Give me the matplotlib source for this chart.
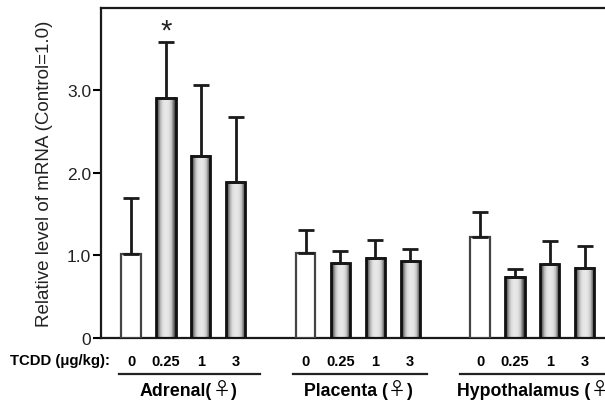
import numpy as np
import matplotlib
matplotlib.use("Agg")
import matplotlib.pyplot as plt

plt.rcParams['font.family'] = ['Liberation Sans', 'DejaVu Sans']

# data
doses = ['0', '0.25', '1', '3']
group_names = ['Adrenal(', 'Placenta (', 'Hypothalamus (']
adrenal_mean = [1.02, 2.91, 2.21, 1.89]
adrenal_err = [0.68, 0.68, 0.86, 0.79]
placenta_mean = [1.03, 0.905, 0.97, 0.93]
placenta_err = [0.28, 0.145, 0.22, 0.15]
hypo_mean = [1.22, 0.74, 0.89, 0.85]
hypo_err = [0.31, 0.10, 0.28, 0.26]

means = [adrenal_mean, placenta_mean, hypo_mean]
errs = [adrenal_err, placenta_err, hypo_err]

fig = plt.figure(figsize=(6.05, 4.02), dpi=100)
ax = fig.add_axes([0.167, 0.157, 0.833, 0.821])

w = 0.55
shade = np.array([0.22, 0.48, 0.72, 0.85, 0.9, 0.91, 0.9, 0.86, 0.76, 0.5, 0.25])

for g in range(3):
    pos = np.arange(4) + 5 * g
    m = np.array(means[g])
    e = np.array(errs[g])
    # control bar (white)
    ax.bar(pos[0], m[0], width=w, color='white', edgecolor='#444444',
           linewidth=1.6, zorder=3)
    # TCDD bars with cylinder-like shading
    for x, h in zip(pos[1:], m[1:]):
        ax.imshow(shade[np.newaxis, :], cmap='gray', vmin=0, vmax=1,
                  extent=(x - w / 2, x + w / 2, 0, h), aspect='auto',
                  interpolation='bilinear', zorder=2)
    ax.bar(pos[1:], m[1:], width=w, color='none', edgecolor='#111111',
           linewidth=2.0, zorder=3)
    ax.errorbar(pos, m, yerr=[np.zeros(4), e], fmt='none', ecolor='#1a1a1a',
                elinewidth=2.0, capsize=5.5, capthick=2.0, zorder=4)
    for x, d in zip(pos, doses):
        ax.text(x, -0.28, d, ha='center', va='center', fontsize=10.5,
                fontweight='bold', clip_on=False)

# significance mark
ax.text(1, 3.72, '*', ha='center', va='center', fontsize=21, color='#222222')

ax.set_xlim(-0.86, 13.58)
ax.set_ylim(0, 4.0)
ax.set_xticks([])
ax.set_yticks([0, 1, 2, 3])
ax.set_yticklabels(['0', '1.0', '2.0', '3.0'], fontsize=12.5, color='#222222')
ax.tick_params(axis='y', direction='out', length=6, width=1.5, pad=1)
ax.set_ylabel('Relative level of mRNA (Control=1.0)', fontsize=13.5,
              color='#222222', labelpad=10)
for s in ['left', 'bottom', 'top']:
    ax.spines[s].set_linewidth(1.6)
    ax.spines[s].set_color('#1a1a1a')
ax.spines['right'].set_visible(False)

# x-axis annotations in figure pixels
def px(x, y):
    return x / 605, 1 - y / 402

fig.text(*px(10, 361), 'TCDD (μg/kg):', ha='left', va='center',
         fontsize=10.7, fontweight='bold')
lines = [(119, 260), (293, 427), (460, 610)]
for (x0, x1) in lines:
    fig.add_artist(plt.Line2D([x0 / 605, x1 / 605], [1 - 375 / 402] * 2,
                              color='#222222', linewidth=1.6))

# group names; the female sign comes from the CJK font (wide glyph)
renderer = fig.canvas.get_renderer()
starts = [140, 304, 457]
base_y = 396
for name, x0 in zip(group_names, starts):
    t1 = fig.text(*px(x0, base_y), name, ha='left', va='baseline',
                  fontsize=12.8, fontweight='bold')
    x1 = t1.get_window_extent(renderer).x1
    if name.endswith(' '):
        x1 += 3
    t2 = fig.text(x1 / 605, 1 - (base_y - 0.5) / 402, '♀', ha='left',
                  va='baseline', fontsize=13, family=['Noto Sans CJK JP'])
    x2 = t2.get_window_extent(renderer).x1
    fig.text(x2 / 605 + 0.002, 1 - base_y / 402, ')', ha='left',
             va='baseline', fontsize=12.8, fontweight='bold')

fig.savefig('out.png', dpi=100)
